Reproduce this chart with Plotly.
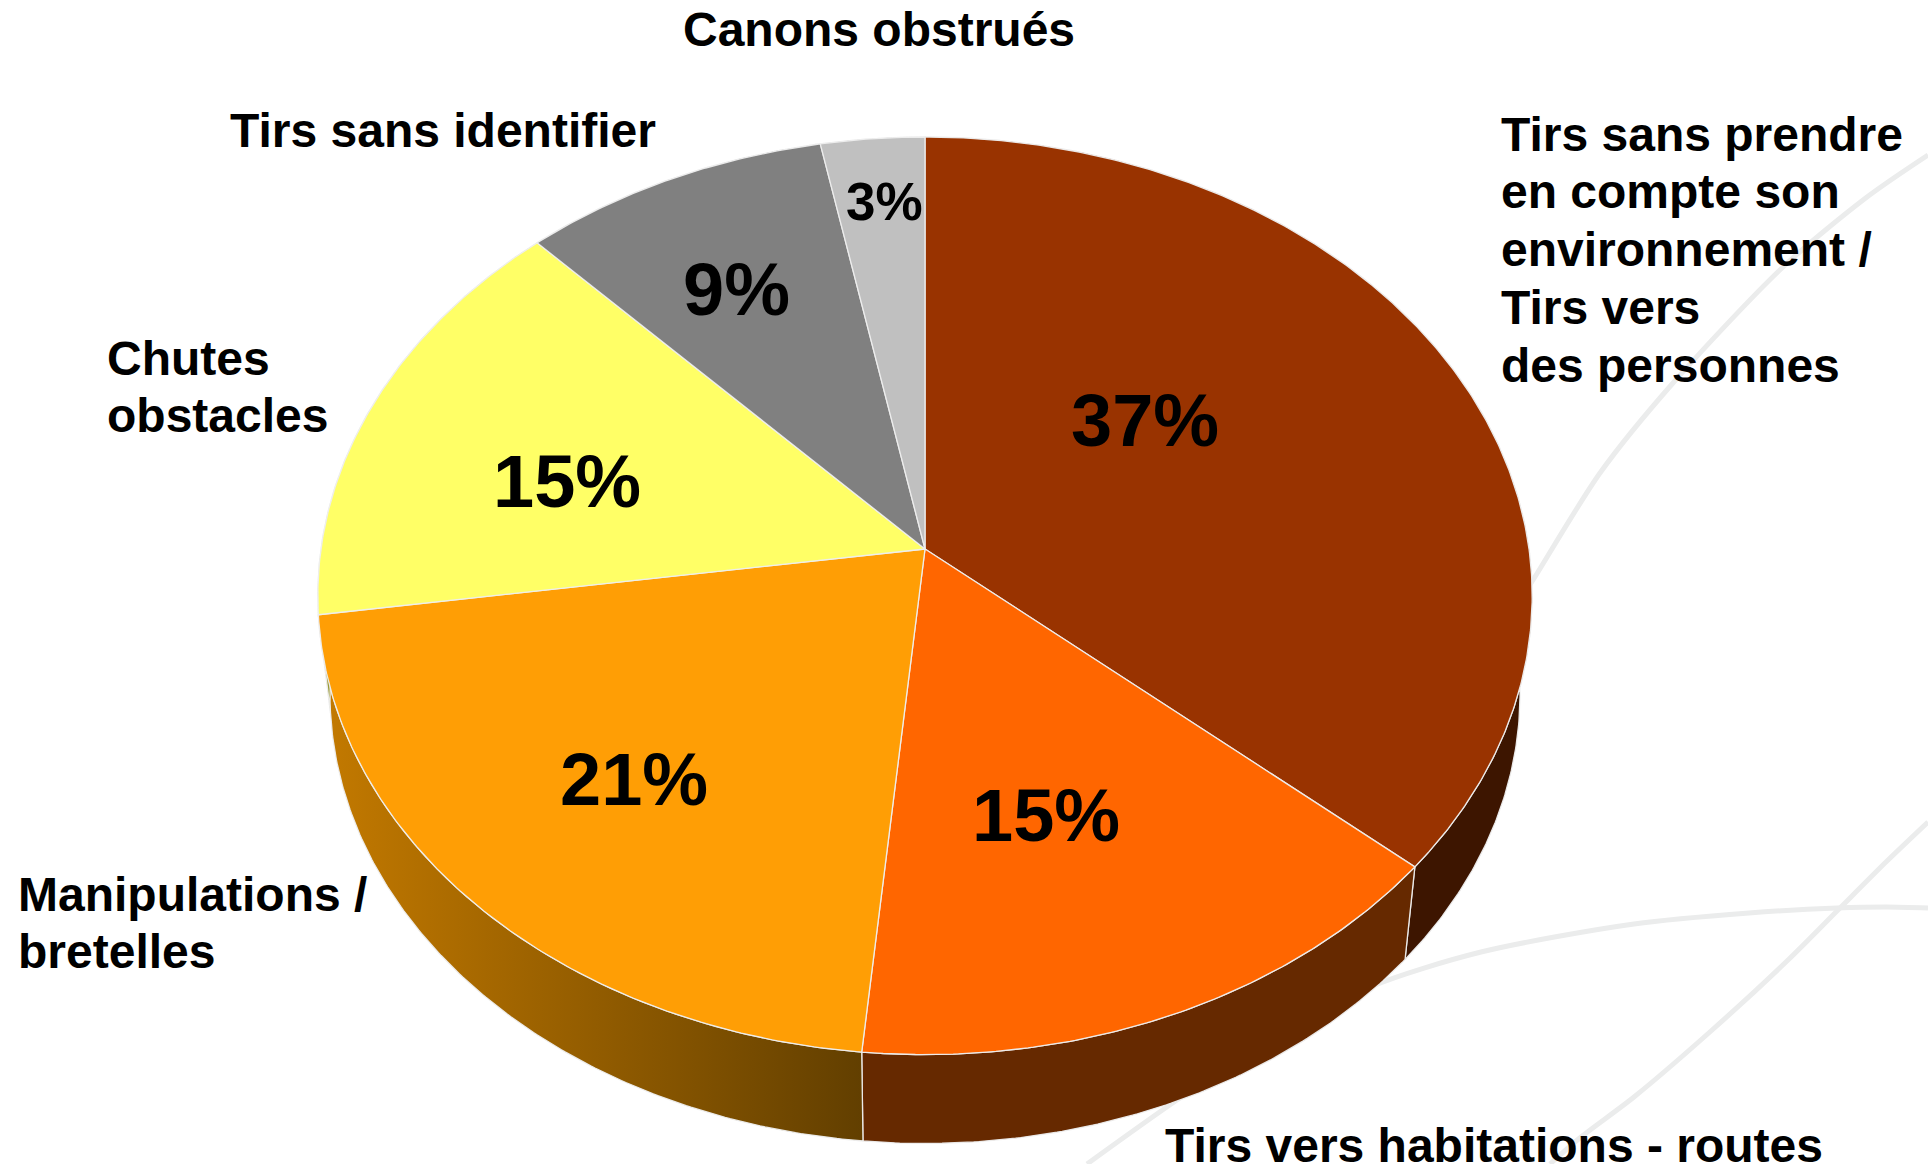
import numpy as np
import plotly.graph_objects as go

# --- data ---
categories = ["Tirs sans prendre<br>en compte son<br>environnement /<br>Tirs vers<br>des personnes",
              "Tirs vers habitations - routes",
              "Manipulations /<br>bretelles",
              "Chutes<br>obstacles",
              "Tirs sans identifier",
              "Canons obstrués"]
values = [37, 15, 21, 15, 9, 3]

# --- styling / layout ---
top_colors = ["#993300", "#FF6600", "#FF9E05", "#FFFF66", "#808080", "#C0C0C0"]
side_colors = ["#3D1500", "#662900", None, "#999933", "#4D4D4D", "#737373"]
side_grad = ["#C47A00", "#623F00"]
edge = "rgba(238,238,238,0.95)"
name_pos = [(1499, 134, 57.8), (1163, 1145, 0), (16, 894, 57.5),
            (105, 358, 57.5), (228, 130, 0), (681, 29, 0)]
pct_pos = [(1145, 420, 74), (1046, 815, 74), (634, 779, 74),
           (567, 481, 74), (736, 289, 74), (884, 201, 53)]

CX, CY = 925.0, 549.0          # apex of the pie on the picture
A, B, K = 604.0, 454.0, 0.102  # projection of the tilted disc
SHRINK, DEPTH = 0.98, 99.0     # lower rim of the disc
# small view correction (degrees) of the 3D rendering, by angle round the disc
VIEW_DEG = [0, 133, 187, 263, 317, 349, 360]
VIEW_FIX = [0, 2.4, 1.8, 1.0, 0.4, 0.2, 0]


def project(theta, lower=False):
    th = theta - np.radians(np.interp(np.degrees(theta), VIEW_DEG, VIEW_FIX))
    X, Y = np.sin(th), np.cos(th)
    w = 1 + K * Y
    px, py = A * X / w, -B * Y / w
    if lower:
        return CX + SHRINK * px, CY + SHRINK * py + DEPTH
    return CX + px, CY + py


total = sum(values)
edges = np.concatenate([[0], np.cumsum(values)]) / total * 2 * np.pi

fig = go.Figure()

# pale decorative swooshes of the slide background
swooshes = [
    ([1520, 1533, 1600, 1673, 1783, 1867, 1928], [600, 580, 473, 383, 267, 197, 155]),
    ([1087, 1177, 1270, 1370, 1481, 1634, 1749, 1837, 1887, 1928],
     [1164, 1100, 1040, 987, 952, 924, 913, 908, 907, 908]),
    ([1550, 1581, 1634, 1711, 1787, 1837, 1887, 1928], [1164, 1137, 1097, 1031, 961, 911, 861, 822]),
]
for sx, sy in swooshes:
    fig.add_trace(go.Scatter(x=sx, y=sy, mode="lines", hoverinfo="skip", showlegend=False,
                             line=dict(color="#EBECEC", width=5, shape="spline", smoothing=0.8)))

# side wall
for i in range(len(values)):
    t = np.linspace(edges[i], edges[i + 1], max(int(values[i] * 8), 8))
    x0, y0 = project(t)
    x1, y1 = project(t, lower=True)
    xs = np.concatenate([x0, x1[::-1], x0[:1]])
    ys = np.concatenate([y0, y1[::-1], y0[:1]])
    kw = dict(fillcolor=side_colors[i])
    if side_colors[i] is None:
        kw = dict(fillgradient=dict(type="horizontal", colorscale=[[0, side_grad[0]], [1, side_grad[1]]]))
    fig.add_trace(go.Scatter(x=xs, y=ys, mode="lines", fill="toself", hoverinfo="skip", showlegend=False,
                             line=dict(color=edge, width=1.3), **kw))

# top of the disc
for i in range(len(values)):
    t = np.linspace(edges[i], edges[i + 1], max(int(values[i] * 8), 8))
    x0, y0 = project(t)
    xs = np.concatenate([[CX], x0, [CX]])
    ys = np.concatenate([[CY], y0, [CY]])
    fig.add_trace(go.Scatter(x=xs, y=ys, mode="lines", fill="toself", fillcolor=top_colors[i],
                             name=categories[i].replace("<br>", " "), hoverinfo="name", showlegend=False,
                             line=dict(color=edge, width=1.3)))

# percentages
for v, (x, y, s) in zip(values, pct_pos):
    fig.add_annotation(x=x, y=y, text=f"{v}%", showarrow=False, xanchor="center", yanchor="middle",
                       font=dict(family="Liberation Sans", size=s, color="black", weight="bold"))

# category names, line by line to hold the tighter leading
for c, (x, y, step) in zip(categories, name_pos):
    for j, line in enumerate(c.split("<br>")):
        fig.add_annotation(x=x, y=y + j * step, text=line, showarrow=False, xanchor="left", yanchor="middle",
                           align="left",
                           font=dict(family="Liberation Sans", size=48, color="black", weight="bold"))

fig.update_layout(width=1928, height=1164, margin=dict(l=0, r=0, t=0, b=0),
                  paper_bgcolor="white", plot_bgcolor="white", showlegend=False,
                  xaxis=dict(range=[0, 1928], visible=False, fixedrange=True),
                  yaxis=dict(range=[1164, 0], visible=False, fixedrange=True))

fig.write_html("out.html", config={"displayModeBar": False},
               post_script="document.body.style.margin='0';document.body.style.overflow='hidden';")
